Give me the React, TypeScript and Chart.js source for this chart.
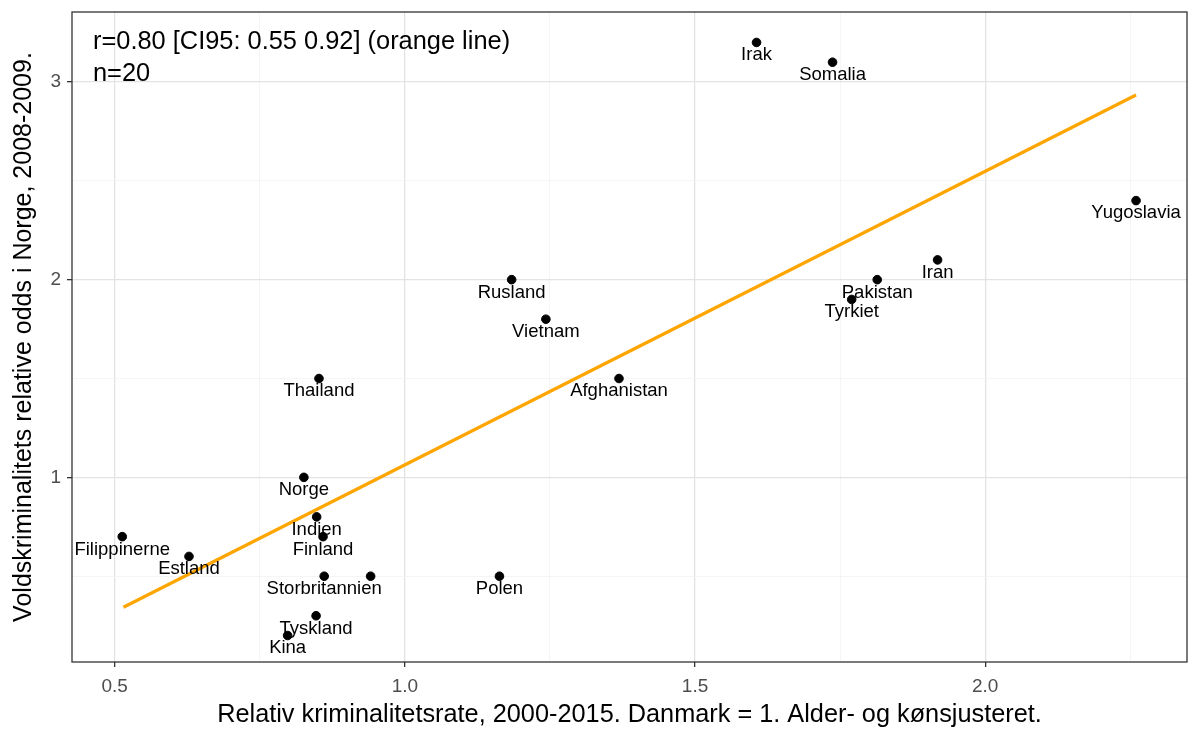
import React, { useEffect, useRef } from 'react';
import { Chart, registerables } from 'chart.js';

Chart.register(...registerables);

const countries = ['Irak', 'Somalia', 'Yugoslavia', 'Iran', 'Pakistan', 'Tyrkiet', 'Rusland', 'Vietnam', 'Afghanistan', 'Thailand', 'Norge', 'Indien', 'Finland', 'Filippinerne', 'Estland', 'Storbritannien', '', 'Polen', 'Tyskland', 'Kina'];
const crimeRate = [1.606, 1.737, 2.26, 1.918, 1.814, 1.77, 1.184, 1.243, 1.369, 0.852, 0.826, 0.848, 0.859, 0.513, 0.628, 0.861, 0.941, 1.163, 0.847, 0.798];
const violenceOdds = [3.2, 3.1, 2.4, 2.1, 2.0, 1.9, 2.0, 1.8, 1.5, 1.5, 1.0, 0.8, 0.7, 0.7, 0.6, 0.5, 0.5, 0.5, 0.3, 0.2];
const fitX = [0.515, 2.26];
const fitY = [0.343, 2.934];
const xMajorTicks = [0.5, 1.0, 1.5, 2.0];
const xMinorTicks = [0.75, 1.25, 1.75, 2.25];
const yMajorTicks = [1, 2, 3];
const yMinorTicks = [0.5, 1.5, 2.5];
const annotationLines = ['r=0.80 [CI95: 0.55 0.92] (orange line)', 'n=20'];
const xTitle = 'Relativ kriminalitetsrate, 2000-2015. Danmark = 1. Alder- og kønsjusteret.';
const yTitle = 'Voldskriminalitets relative odds i Norge, 2008-2009.';

const FONT = '"Liberation Sans", Arial, sans-serif';

const isIn = (arr: number[], v: number) => arr.some((a) => Math.abs(a - v) < 1e-9);

export default function App() {
  const ref = useRef<HTMLCanvasElement | null>(null);

  useEffect(() => {
    if (!ref.current) return;

    const framePlugin = {
      id: 'frameAndText',
      afterDatasetsDraw(chart: any) {
        const { ctx } = chart;
        const meta = chart.getDatasetMeta(0);
        ctx.save();
        ctx.fillStyle = '#000';
        ctx.font = `18.5px ${FONT}`;
        ctx.textAlign = 'center';
        ctx.textBaseline = 'middle';
        meta.data.forEach((pt: any, i: number) => {
          const label = countries[i];
          if (label) ctx.fillText(label, pt.x, pt.y + 12.8);
        });
        ctx.restore();
      },
      afterDraw(chart: any) {
        const { ctx, chartArea } = chart;
        ctx.save();
        ctx.strokeStyle = '#333333';
        ctx.lineWidth = 1.3;
        ctx.strokeRect(chartArea.left, chartArea.top, chartArea.right - chartArea.left, chartArea.bottom - chartArea.top);
        ctx.fillStyle = '#000';
        ctx.font = `25.4px ${FONT}`;
        ctx.textAlign = 'left';
        ctx.textBaseline = 'middle';
        annotationLines.forEach((t, i) => {
          ctx.fillText(t, chartArea.left + 21, chartArea.top + 30 + i * 32);
        });
        ctx.restore();
      },
    };

    const chart = new Chart(ref.current, {
      type: 'scatter',
      data: {
        datasets: [
          {
            type: 'scatter',
            data: crimeRate.map((x, i) => ({ x, y: violenceOdds[i] })),
            backgroundColor: '#000',
            borderColor: '#000',
            pointRadius: 4.3,
            pointHoverRadius: 4.3,
          },
          {
            type: 'line',
            data: fitX.map((x, i) => ({ x, y: fitY[i] })),
            borderColor: '#FFA500',
            borderWidth: 3.2,
            pointRadius: 0,
            fill: false,
          } as any,
        ],
      },
      plugins: [framePlugin],
      options: {
        responsive: false,
        animation: false,
        events: [],
        layout: { autoPadding: false, padding: { top: 12, right: 13, left: 0, bottom: 0 } },
        plugins: { legend: { display: false }, tooltip: { enabled: false } },
        scales: {
          x: {
            type: 'linear',
            min: 0.4264,
            max: 2.3478,
            afterBuildTicks: (scale: any) => {
              scale.ticks = [...xMajorTicks, ...xMinorTicks].sort((a, b) => a - b).map((value) => ({ value }));
            },
            afterFit: (scale: any) => {
              scale.height = 79;
              scale.paddingLeft = 0;
              scale.paddingRight = 0;
              scale.paddingTop = 0;
              scale.paddingBottom = 0;
            },
            border: { display: false },
            grid: {
              color: (c: any) => (isIn(xMajorTicks, c.tick?.value) ? '#E3E3E3' : '#F2F2F2'),
              lineWidth: (c: any) => (isIn(xMajorTicks, c.tick?.value) ? 1.3 : 0.8),
              tickColor: (c: any) => (isIn(xMajorTicks, c.tick?.value) ? '#333333' : 'rgba(0,0,0,0)'),
              tickLength: 5,
              tickWidth: 1.3,
            },
            ticks: {
              color: '#4D4D4D',
              font: { family: FONT, size: 19 },
              padding: 8,
              maxRotation: 0,
              autoSkip: false,
              callback: (v: any) => (isIn(xMajorTicks, Number(v)) ? Number(v).toFixed(1) : ''),
            },
            title: {
              display: true,
              text: xTitle,
              color: '#000',
              font: { family: FONT, size: 25.3 },
              padding: { top: 0, bottom: 11 },
            },
          },
          y: {
            type: 'linear',
            min: 0.066,
            max: 3.354,
            afterBuildTicks: (scale: any) => {
              scale.ticks = [...yMajorTicks, ...yMinorTicks].sort((a, b) => a - b).map((value) => ({ value }));
            },
            afterFit: (scale: any) => {
              scale.width = 72;
              scale.paddingLeft = 0;
              scale.paddingRight = 0;
              scale.paddingTop = 0;
              scale.paddingBottom = 0;
            },
            border: { display: false },
            grid: {
              color: (c: any) => (isIn(yMajorTicks, c.tick?.value) ? '#E3E3E3' : '#F2F2F2'),
              lineWidth: (c: any) => (isIn(yMajorTicks, c.tick?.value) ? 1.3 : 0.8),
              tickColor: (c: any) => (isIn(yMajorTicks, c.tick?.value) ? '#333333' : 'rgba(0,0,0,0)'),
              tickLength: 5,
              tickWidth: 1.3,
            },
            ticks: {
              color: '#4D4D4D',
              font: { family: FONT, size: 19 },
              padding: 6,
              autoSkip: false,
              callback: (v: any) => (isIn(yMajorTicks, Number(v)) ? String(Math.round(Number(v))) : ''),
            },
            title: {
              display: true,
              text: yTitle,
              color: '#000',
              font: { family: FONT, size: 25 },
              padding: { top: 9, bottom: 0 },
            },
          },
        },
      },
    });

    return () => chart.destroy();
  }, []);

  return (
    <div style={{ position: 'absolute', left: 0, top: 0, width: 1200, height: 741, background: '#fff' }}>
      <canvas ref={ref} width={1200} height={741} style={{ display: 'block' }} />
    </div>
  );
}
